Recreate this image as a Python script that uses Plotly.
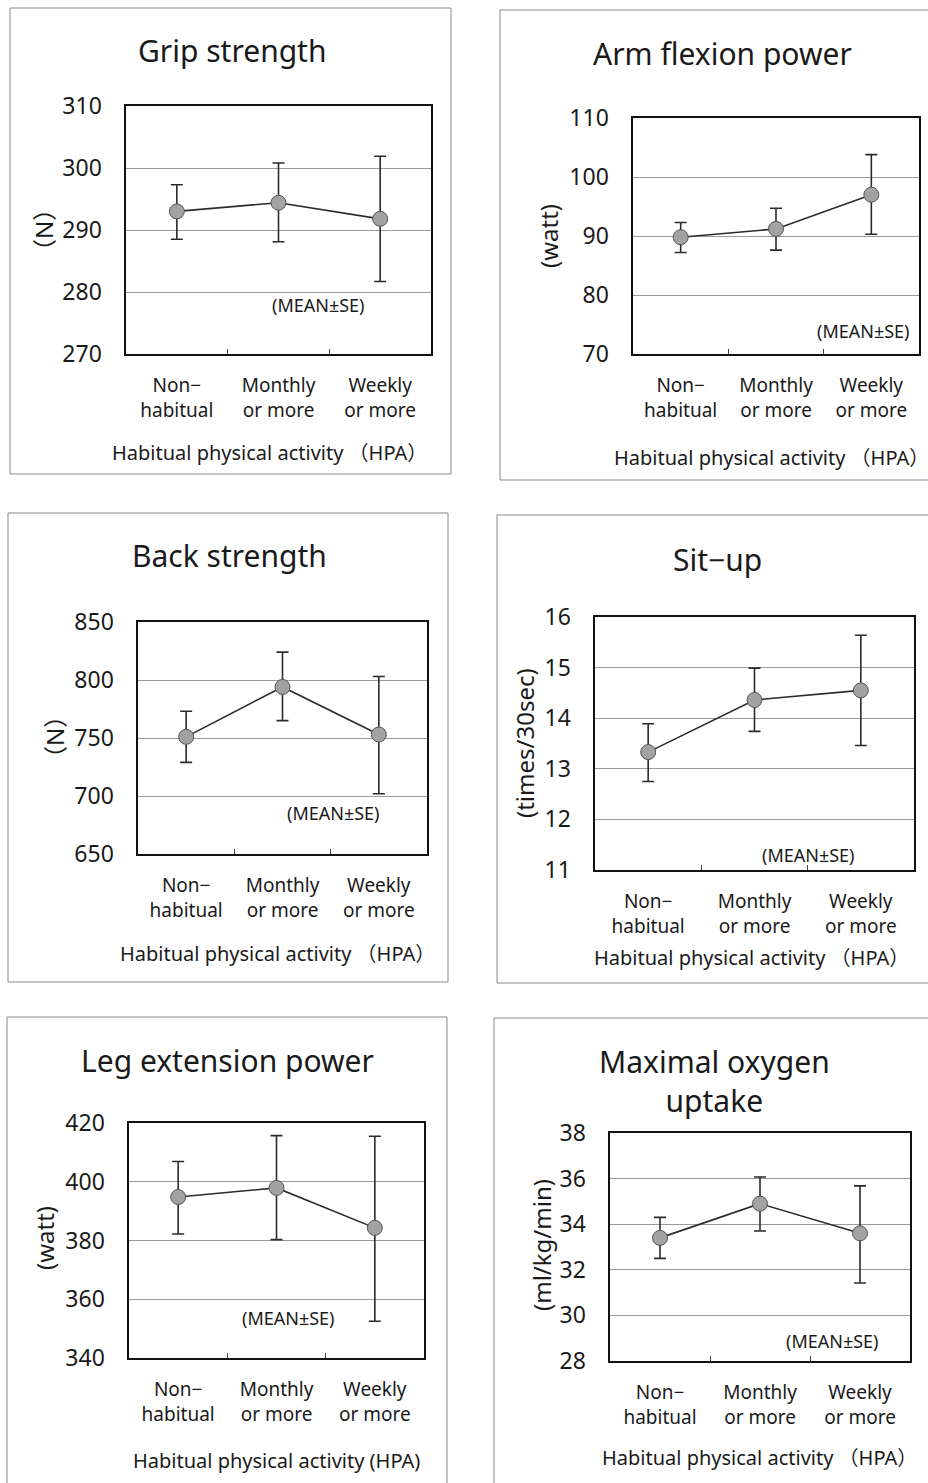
import plotly.graph_objects as go

W, H = 928, 1483
FONT = "Noto Sans, Noto Sans CJK JP, sans-serif"
TXT = "#1a1a1a"

# ---------------- data ----------------
categories = ["Non−<br>habitual", "Monthly<br>or more", "Weekly<br>or more"]
x_pos = [0, 1, 2]

grip_mean = [293.0, 294.4, 291.8]
grip_upper = [297.3, 300.8, 301.9]
grip_lower = [288.5, 288.1, 281.7]

arm_mean = [89.8, 91.2, 97.0]
arm_upper = [92.3, 94.7, 103.8]
arm_lower = [87.2, 87.6, 90.3]

back_mean = [751, 794, 753]
back_upper = [773, 824, 803]
back_lower = [729, 765, 702]

situp_mean = [13.33, 14.36, 14.55]
situp_upper = [13.89, 14.99, 15.64]
situp_lower = [12.75, 13.74, 13.46]

leg_mean = [394.8, 397.9, 384.3]
leg_upper = [406.9, 415.7, 415.5]
leg_lower = [382.2, 380.3, 352.5]

vo2_mean = [33.4, 34.9, 33.6]
vo2_upper = [34.3, 36.07, 35.68]
vo2_lower = [32.5, 33.7, 31.42]

titles = ["Grip strength", "Arm flexion power", "Back strength", "Sit−up",
          "Leg extension power", "Maximal oxygen<br>uptake"]
units = ["（N）", "(watt)", "（N）", "(times/30sec)", "(watt)", "(ml/kg/min)"]
y_ranges = [[270, 310], [70, 110], [650, 850], [11, 16], [340, 420], [28, 38]]
y_dticks = [10, 10, 50, 1, 20, 2]
x_titles = ["Habitual physical activity （HPA）"] * 4 + [
    "Habitual physical activity (HPA)", "Habitual physical activity （HPA）"]
note_text = "(MEAN±SE)"

means = [grip_mean, arm_mean, back_mean, situp_mean, leg_mean, vo2_mean]
uppers = [grip_upper, arm_upper, back_upper, situp_upper, leg_upper, vo2_upper]
lowers = [grip_lower, arm_lower, back_lower, situp_lower, leg_lower, vo2_lower]

# ---------------- layout geometry (pixels) ----------------
plot_px = [(126, 431, 106, 354), (633, 919, 118, 354), (138, 427, 622, 854),
           (595, 914, 617, 870), (129, 424, 1123, 1358), (610, 910, 1133, 1361)]
box_px = [(10, 451, 8, 474), (500, 940, 10, 480), (8, 448, 513, 982),
          (497, 940, 515, 983), (7, 447, 1017, 1500), (494, 940, 1018, 1500)]
title_px = [(232, 50), (722, 53), (229, 555), (717, 560), (227, 1060), (714, 1081)]
unit_px = [(44, 230), (548, 236), (54, 737), (524, 743), (44, 1238), (541, 1245)]
hpa_px = [(269, 452), (771, 457), (277, 953), (751, 958), (276, 1460), (759, 1457)]
note_px = [(318, 305), (863, 331), (333, 813), (808, 855), (288, 1318), (832, 1341)]


def px(x):
    return x / W


def py(y):
    return 1 - y / H


fig = go.Figure()
shapes = []
annotations = []

for i in range(6):
    n = "" if i == 0 else str(i + 1)
    xa, ya = "x" + n, "y" + n
    m, u, lo = means[i], uppers[i], lowers[i]
    fig.add_trace(go.Scatter(
        x=x_pos, y=m, xaxis=xa, yaxis=ya, mode="lines+markers",
        line=dict(color="#2b2b2b", width=1.6),
        marker=dict(symbol="circle", size=15, color="#a2a2a2",
                    line=dict(color="#555555", width=1)),
        error_y=dict(type="data", symmetric=False,
                     array=[a - b for a, b in zip(u, m)],
                     arrayminus=[b - c for b, c in zip(m, lo)],
                     color="#2b2b2b", thickness=1.6, width=6),
        showlegend=False, hoverinfo="skip"))

    l, r, t, b = plot_px[i]
    fig.layout["xaxis" + n] = dict(
        domain=[px(l), px(r)], anchor=ya, range=[-0.5, 2.5], automargin=False,
        tickmode="array", tickvals=x_pos, ticktext=categories,
        ticks="", showgrid=False, zeroline=False,
        showline=True, mirror=True, linecolor="#111", linewidth=1.6,
        tickfont=dict(family=FONT, size=19, color=TXT),
        ticklabelstandoff=14,
        minor=dict(tickmode="array", tickvals=[0.5, 1.5], ticks="inside",
                   ticklen=5, tickcolor="#444", tickwidth=1, showgrid=False),
        fixedrange=True)
    fig.layout["yaxis" + n] = dict(
        domain=[py(b), py(t)], anchor=xa, range=y_ranges[i], automargin=False,
        tickmode="linear", tick0=y_ranges[i][0], dtick=y_dticks[i],
        ticks="", showgrid=True, gridcolor="#9a9a9a", gridwidth=1,
        zeroline=False, showline=True, mirror=True, linecolor="#111",
        linewidth=1.6, tickfont=dict(family=FONT, size=23, color=TXT),
        ticklabelstandoff=18, fixedrange=True)

    bl, br, bt, bb = box_px[i]
    shapes.append(dict(type="rect", xref="paper", yref="paper",
                       x0=px(bl), x1=px(br), y0=py(bb), y1=py(bt),
                       line=dict(color="#8a8a8a", width=1), layer="below"))

    tx, ty = title_px[i]
    annotations.append(dict(text=titles[i], x=px(tx), y=py(ty), xref="paper",
                            yref="paper", showarrow=False, xanchor="center",
                            yanchor="middle",
                            font=dict(family=FONT, size=30, color=TXT)))
    ux, uy = unit_px[i]
    annotations.append(dict(text=units[i], x=px(ux), y=py(uy), xref="paper",
                            yref="paper", showarrow=False, textangle=-90,
                            xanchor="center", yanchor="middle",
                            font=dict(family=FONT, size=24, color=TXT)))
    hx, hy = hpa_px[i]
    annotations.append(dict(text=x_titles[i], x=px(hx), y=py(hy), xref="paper",
                            yref="paper", showarrow=False, xanchor="center",
                            yanchor="middle",
                            font=dict(family=FONT, size=20, color=TXT)))
    nx, ny = note_px[i]
    annotations.append(dict(text=note_text, x=px(nx), y=py(ny), xref="paper",
                            yref="paper", showarrow=False, xanchor="center",
                            yanchor="middle",
                            font=dict(family=FONT, size=18, color=TXT)))

fig.update_layout(template="none", width=W, height=H,
                  margin=dict(l=0, r=0, t=0, b=0, pad=0, autoexpand=False),
                  paper_bgcolor="white", plot_bgcolor="white",
                  shapes=shapes, annotations=annotations,
                  font=dict(family=FONT, color=TXT))

fig.write_html("out.html", config={"displayModeBar": False, "staticPlot": True},
               post_script="document.body.style.margin='0';"
                           "document.body.style.overflow='hidden';")
